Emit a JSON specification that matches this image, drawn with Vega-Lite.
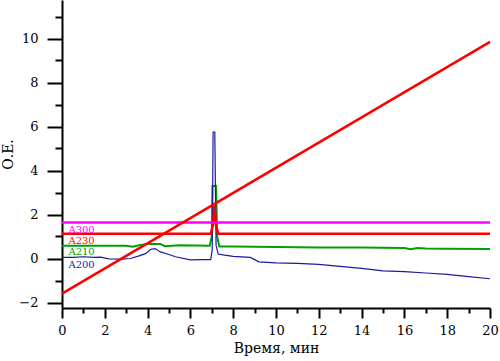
{
  "$schema": "https://vega.github.io/schema/vega-lite/v6.json",
  "width": 428,
  "height": 308,
  "autosize": "none",
  "padding": {"left": 62, "top": 0, "right": 10, "bottom": 53},
  "background": "white",
  "config": {
    "view": {"stroke": null},
    "font": "DejaVu Serif",
    "axis": {"grid": false, "domainColor": "black", "domainWidth": 2, "tickColor": "black", "tickWidth": 2, "labelColor": "black", "titleColor": "black", "labelFont": "DejaVu Serif", "titleFont": "DejaVu Serif", "titleFontWeight": "normal", "labelFontSize": 13, "titleFontSize": 14}
  },
  "datasets": {
    "traces": [
      {"s": "A200", "x": 0, "y": 0.05}, {"s": "A200", "x": 0.5, "y": 0.05}, {"s": "A200", "x": 1.0, "y": 0.08}, {"s": "A200", "x": 1.5, "y": 0.05}, {"s": "A200", "x": 1.8, "y": 0.06}, {"s": "A200", "x": 2.2, "y": -0.02}, {"s": "A200", "x": 2.8, "y": -0.03}, {"s": "A200", "x": 3.2, "y": 0.0}, {"s": "A200", "x": 3.6, "y": 0.12}, {"s": "A200", "x": 3.9, "y": 0.22}, {"s": "A200", "x": 4.15, "y": 0.42}, {"s": "A200", "x": 4.35, "y": 0.45}, {"s": "A200", "x": 4.6, "y": 0.3}, {"s": "A200", "x": 5.0, "y": 0.18}, {"s": "A200", "x": 5.3, "y": 0.08}, {"s": "A200", "x": 6.0, "y": -0.06}, {"s": "A200", "x": 6.5, "y": -0.05}, {"s": "A200", "x": 6.95, "y": -0.05}, {"s": "A200", "x": 7.02, "y": 0.4}, {"s": "A200", "x": 7.06, "y": 5.75}, {"s": "A200", "x": 7.14, "y": 5.75}, {"s": "A200", "x": 7.2, "y": 0.6}, {"s": "A200", "x": 7.3, "y": 0.2}, {"s": "A200", "x": 7.6, "y": 0.15}, {"s": "A200", "x": 8.0, "y": 0.1}, {"s": "A200", "x": 8.8, "y": 0.05}, {"s": "A200", "x": 9.2, "y": -0.15}, {"s": "A200", "x": 10.0, "y": -0.2}, {"s": "A200", "x": 11.0, "y": -0.22}, {"s": "A200", "x": 12.0, "y": -0.27}, {"s": "A200", "x": 13.0, "y": -0.36}, {"s": "A200", "x": 14.0, "y": -0.45}, {"s": "A200", "x": 15.0, "y": -0.56}, {"s": "A200", "x": 16.0, "y": -0.6}, {"s": "A200", "x": 17.0, "y": -0.66}, {"s": "A200", "x": 18.0, "y": -0.72}, {"s": "A200", "x": 19.0, "y": -0.82}, {"s": "A200", "x": 20.0, "y": -0.92},
      {"s": "A210", "x": 0, "y": 0.58}, {"s": "A210", "x": 3.0, "y": 0.58}, {"s": "A210", "x": 3.3, "y": 0.54}, {"s": "A210", "x": 3.6, "y": 0.6}, {"s": "A210", "x": 4.0, "y": 0.66}, {"s": "A210", "x": 4.6, "y": 0.66}, {"s": "A210", "x": 4.8, "y": 0.56}, {"s": "A210", "x": 5.5, "y": 0.6}, {"s": "A210", "x": 6.9, "y": 0.58}, {"s": "A210", "x": 7.0, "y": 1.0}, {"s": "A210", "x": 7.03, "y": 3.3}, {"s": "A210", "x": 7.2, "y": 3.3}, {"s": "A210", "x": 7.25, "y": 1.0}, {"s": "A210", "x": 7.35, "y": 0.55}, {"s": "A210", "x": 8.0, "y": 0.55}, {"s": "A210", "x": 10.0, "y": 0.52}, {"s": "A210", "x": 12.0, "y": 0.5}, {"s": "A210", "x": 14.0, "y": 0.5}, {"s": "A210", "x": 16.0, "y": 0.48}, {"s": "A210", "x": 16.3, "y": 0.42}, {"s": "A210", "x": 16.6, "y": 0.48}, {"s": "A210", "x": 17.0, "y": 0.45}, {"s": "A210", "x": 18.0, "y": 0.44}, {"s": "A210", "x": 20.0, "y": 0.43},
      {"s": "A230", "x": 0, "y": 1.12}, {"s": "A230", "x": 6.95, "y": 1.12}, {"s": "A230", "x": 7.05, "y": 1.5}, {"s": "A230", "x": 7.12, "y": 2.4}, {"s": "A230", "x": 7.2, "y": 1.5}, {"s": "A230", "x": 7.3, "y": 1.12}, {"s": "A230", "x": 20.0, "y": 1.12},
      {"s": "A300", "x": 0, "y": 1.64}, {"s": "A300", "x": 20.0, "y": 1.64},
      {"s": "grad", "x": 0, "y": -1.6}, {"s": "grad", "x": 20.0, "y": 9.85}
    ],
    "labels": [
      {"s": "A300", "x": 0.3, "y": 1.3},
      {"s": "A230", "x": 0.3, "y": 0.78},
      {"s": "A210", "x": 0.3, "y": 0.28},
      {"s": "A200", "x": 0.3, "y": -0.3}
    ]
  },
  "encoding": {
    "x": {"field": "x", "type": "quantitative", "scale": {"domain": [0, 20], "nice": false},
      "axis": {"values": [0,1,2,3,4,5,6,7,8,9,10,11,12,13,14,15,16,17,18,19,20], "labelExpr": "datum.value % 2 === 0 ? datum.label : ''", "tickSize": {"condition": {"test": "datum.value % 2 === 0", "value": 10}, "value": 5}, "labelPadding": 6, "title": "Время, мин", "titlePadding": 4, "labelFlush": false}},
    "y": {"field": "y", "type": "quantitative", "scale": {"domain": [-2.25, 11.75], "nice": false, "zero": false},
      "axis": {"values": [-2,-1,0,1,2,3,4,5,6,7,8,9,10,11], "labelExpr": "datum.value % 2 === 0 ? datum.label : ''", "tickSize": {"condition": {"test": "datum.value % 2 === 0", "value": 15}, "value": 7}, "labelPadding": 9, "title": "О.Е.", "titlePadding": 3, "labelFlush": false}}
  },
  "layer": [
    {"data": {"name": "traces"}, "transform": [{"filter": "datum.s === 'A210'"}], "mark": {"type": "line", "color": "#00a000", "strokeWidth": 2}},
    {"data": {"name": "traces"}, "transform": [{"filter": "datum.s === 'A200'"}], "mark": {"type": "line", "color": "#1a1aa0", "strokeWidth": 1.2}},
    {"data": {"name": "traces"}, "transform": [{"filter": "datum.s === 'A230'"}], "mark": {"type": "line", "color": "#ff0000", "strokeWidth": 2.5}},
    {"data": {"name": "traces"}, "transform": [{"filter": "datum.s === 'A300'"}], "mark": {"type": "line", "color": "#ff00ff", "strokeWidth": 2.5}},
    {"data": {"name": "traces"}, "transform": [{"filter": "datum.s === 'grad'"}], "mark": {"type": "line", "color": "#ff0000", "strokeWidth": 2.5}},
    {"data": {"name": "labels"}, "mark": {"type": "text", "align": "left", "baseline": "middle", "fontSize": 10, "font": "DejaVu Serif"},
      "encoding": {"text": {"field": "s"},
        "color": {"field": "s", "type": "nominal", "scale": {"domain": ["A300", "A230", "A210", "A200"], "range": ["#ff00ff", "#ff0000", "#00a000", "#1a1aa0"]}, "legend": null}}}
  ]
}
